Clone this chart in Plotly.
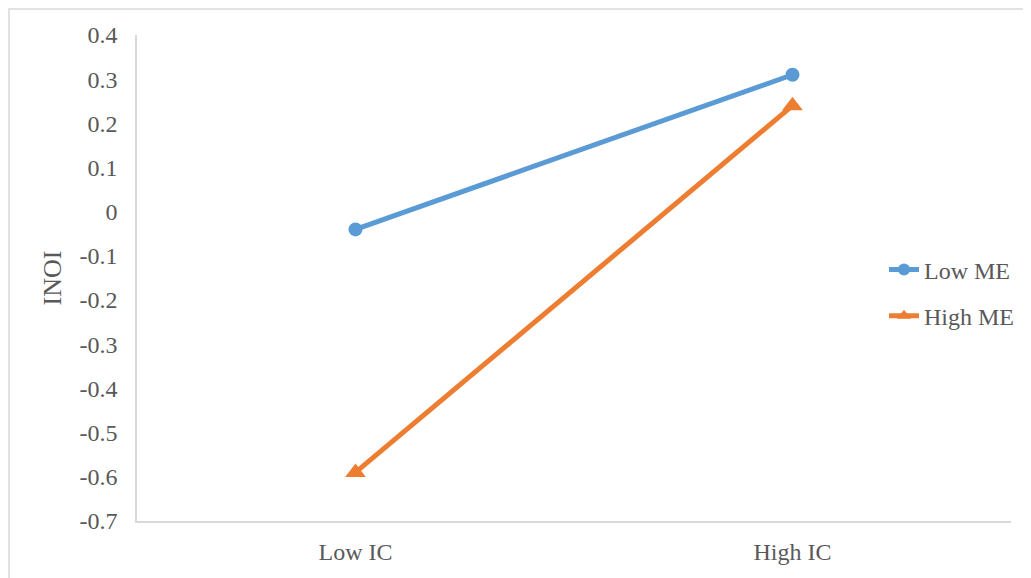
import plotly.graph_objects as go

categories = ["Low IC", "High IC"]
low_me = [-0.04, 0.31]
high_me = [-0.59, 0.24]
y_ticks = [0.4, 0.3, 0.2, 0.1, 0, -0.1, -0.2, -0.3, -0.4, -0.5, -0.6, -0.7]

W, H = 1031, 578
OFF = 8  # page body margin
# target plot area in screen pixels: x 137..1011, y 35..521
L, T = 137 - OFF, 35 - OFF
R, B = W - (1011 - OFF), H - (521 - OFF)
pw, ph = W - L - R, H - T - B

fig = go.Figure()
fig.add_trace(go.Scatter(x=[0, 1], y=low_me, name="Low ME", mode="lines+markers",
                         legendgroup="a",
                         line=dict(color="#5B9BD5", width=5),
                         marker=dict(symbol="circle", size=14, color="#5B9BD5")))
fig.add_trace(go.Scatter(x=[0, 1], y=high_me, name="High ME", mode="lines+markers",
                         legendgroup="b",
                         line=dict(color="#ED7D31", width=5),
                         marker=dict(symbol="triangle-up", size=18, color="#ED7D31")))

font_fam = "Liberation Serif, Times New Roman, serif"
fig.update_layout(
    width=W, height=H,
    margin=dict(l=L, r=R, t=T, b=B, pad=0),
    paper_bgcolor="white", plot_bgcolor="white",
    font=dict(family=font_fam, size=24, color="#595959"),
    showlegend=True,
    legend=dict(x=(884 - 137) / pw, y=(521 - 293) / ph, xanchor="left", yanchor="middle",
                font=dict(size=24, color="#595959"), bgcolor="rgba(0,0,0,0)",
                traceorder="grouped", tracegroupgap=12, itemsizing="constant"),
    xaxis=dict(range=[-0.5, 1.5], tickmode="array", tickvals=[0, 1], ticktext=categories,
               showgrid=False, zeroline=False, showline=True, linecolor="#D9D9D9", linewidth=1.5,
               ticks="", ticklabelstandoff=8, tickfont=dict(size=24, color="#595959")),
    yaxis=dict(range=[-0.7, 0.4], tickmode="array", tickvals=y_ticks,
               ticktext=[("%g" % v) for v in y_ticks],
               showgrid=False, zeroline=False, showline=True, linecolor="#D9D9D9", linewidth=1.5,
               ticks="", ticklabelstandoff=13, tickfont=dict(size=24, color="#595959")),
)
fig.update_yaxes(title=dict(text="INOI", font=dict(size=26, color="#595959"), standoff=10))

# chart-area border (left and top edges visible in the reference)
x0 = (OFF + 1 - 137) / pw
y1 = (521 - OFF - 1) / ph
x1 = (1060 - 137) / pw
y0 = (521 - 600) / ph
fig.add_shape(type="rect", xref="paper", yref="paper", x0=x0, y0=y0, x1=x1, y1=y1,
              line=dict(color="#D9D9D9", width=1.5), fillcolor="rgba(0,0,0,0)", layer="below")

fig.write_html("out.html")
